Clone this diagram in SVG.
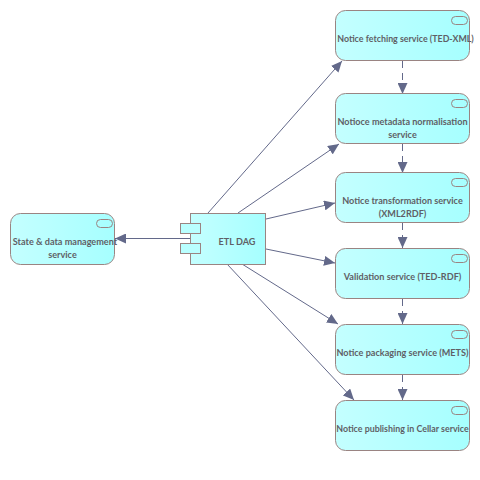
<svg xmlns="http://www.w3.org/2000/svg" width="480" height="480" viewBox="0 0 480 480">
<style>
.n{fill:url(#g);stroke:#9a8482;stroke-width:1}
.p{fill:none;stroke:#9a8482;stroke-width:1}
.s{fill:#b9ffff;stroke:#9a8482;stroke-width:1}
text{font-family:Lato,"Liberation Sans",sans-serif;font-size:9.1px;font-weight:700;fill:#5f5f66;text-anchor:middle}
.t{font-size:8.85px}
.c{stroke:#63698a;stroke-width:1;fill:none;marker-end:url(#a)}
.d{stroke-dasharray:7 5}
</style>
<defs>
<linearGradient id="g" x1="0" y1="0" x2="1" y2="0"><stop offset="0" stop-color="#c4ffff"/><stop offset="1" stop-color="#a6ffff"/></linearGradient>
<marker id="a" markerUnits="userSpaceOnUse" markerWidth="12" markerHeight="10" refX="11" refY="5" orient="auto"><path d="M0 0L11 5L0 10Z" fill="#63698a"/></marker>
</defs>
<g id="connectors">
<path class="c" d="M208 213L342 61"/>
<path class="c" d="M238 213L339 144"/>
<path class="c" d="M266 219L335 203"/>
<path class="c" d="M266 249L335 263"/>
<path class="c" d="M242 264L338 324"/>
<path class="c" d="M227 264L354 400"/>
<path class="c" d="M190 238.500L115 238.500"/>
<path class="c d" d="M402.500 61L402.500 94"/>
<path class="c d" d="M402.500 144L402.500 173"/>
<path class="c d" d="M402.500 223L402.500 248"/>
<path class="c d" d="M402.500 299L402.500 324"/>
<path class="c d" d="M402.500 375L402.500 400"/>
</g>
<g id="n1"><rect class="n" x="335.500" y="10.500" width="134" height="50" rx="10"/><rect class="p" x="451.500" y="16.500" width="16" height="8" rx="4"/><text class="t" x="405.500" y="42">Notice fetching service (TED-XML)</text></g>
<g id="n2"><rect class="n" x="335.500" y="93.500" width="134" height="50" rx="10"/><rect class="p" x="451.500" y="99.500" width="16" height="8" rx="4"/><text x="402.500" y="125">Notioce metadata normalisation</text><text x="402.500" y="138">service</text></g>
<g id="n3"><rect class="n" x="335.500" y="172.500" width="134" height="50" rx="10"/><rect class="p" x="451.500" y="178.500" width="16" height="8" rx="4"/><text x="402.500" y="204">Notice transformation service</text><text x="402.500" y="217">(XML2RDF)</text></g>
<g id="n4"><rect class="n" x="335.500" y="248.500" width="134" height="50" rx="10"/><rect class="p" x="451.500" y="254.500" width="16" height="8" rx="4"/><text x="402.500" y="280">Validation service (TED-RDF)</text></g>
<g id="n5"><rect class="n" x="335.500" y="324.500" width="134" height="50" rx="10"/><rect class="p" x="451.500" y="330.500" width="16" height="8" rx="4"/><text x="402.500" y="356">Notice packaging service (METS)</text></g>
<g id="n6"><rect class="n" x="335.500" y="400.500" width="134" height="50" rx="10"/><rect class="p" x="451.500" y="406.500" width="16" height="8" rx="4"/><text class="t" x="402.500" y="432">Notice publishing in Cellar service</text></g>
<g id="state"><rect class="n" x="10.500" y="213.500" width="104" height="51" rx="10"/><rect class="p" x="96.500" y="219.500" width="16" height="8" rx="4"/><text x="65" y="245">State &amp; data management</text><text x="62.500" y="258">service</text></g>
<g id="etl"><rect class="n" x="190.500" y="213.500" width="75" height="51"/><rect class="s" x="180.500" y="223.500" width="20" height="10"/><rect class="s" x="180.500" y="243.500" width="20" height="10"/><text x="237" y="245">ETL DAG</text></g>
</svg>
